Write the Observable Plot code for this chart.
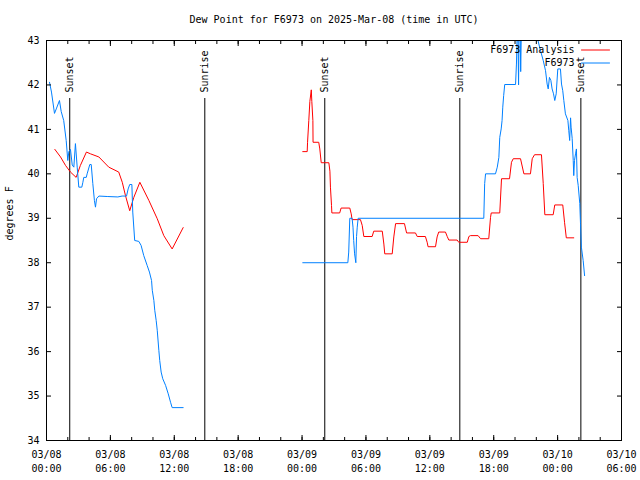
<!DOCTYPE html>
<html><head><meta charset="utf-8">
<script src="https://cdn.jsdelivr.net/npm/d3@7"></script>
<script src="https://cdn.jsdelivr.net/npm/@observablehq/plot@0.6"></script>
<style>body{margin:0;background:#fff}</style>
</head><body><div id="chart"></div>
<script>
const title = "Dew Point for F6973 on 2025-Mar-08 (time in UTC)";
const yLabel = "degrees F";
const legendLabels = ["F6973 Analysis", "F6973"];
const seriesColors = ["#ff0000", "#0080ff"];

// F6973 Analysis (red); null breaks the line
const analysisTimes = [
"03/08 00:47","03/08 01:19","03/08 01:47","03/08 02:15","03/08 02:47","03/08 03:11","03/08 03:45","03/08 04:08","03/08 04:55","03/08 05:51","03/08 06:47","03/08 07:07","03/08 07:25","03/08 07:49","03/08 08:12","03/08 08:46","03/08 09:37","03/08 10:24","03/08 11:01","03/08 11:48","03/08 12:50",
"03/08 18:00",
"03/09 00:04","03/09 00:29","03/09 00:31","03/09 00:38","03/09 00:44","03/09 00:52","03/09 00:55","03/09 01:01","03/09 01:02","03/09 01:34","03/09 01:40","03/09 01:48","03/09 02:31","03/09 02:37","03/09 02:40","03/09 02:46","03/09 02:48","03/09 03:32","03/09 03:40","03/09 04:29","03/09 04:37","03/09 04:42","03/09 05:29","03/09 05:39","03/09 05:48","03/09 06:35","03/09 06:44","03/09 07:32","03/09 07:41","03/09 07:46","03/09 08:28","03/09 08:37","03/09 08:47","03/09 09:37","03/09 09:49","03/09 10:39","03/09 10:49","03/09 11:35","03/09 11:45","03/09 11:50","03/09 12:32","03/09 12:41","03/09 12:50","03/09 13:28","03/09 13:38","03/09 13:47","03/09 14:34","03/09 14:43","03/09 15:31","03/09 15:40","03/09 15:49","03/09 16:32","03/09 16:46","03/09 17:32","03/09 17:42","03/09 17:46","03/09 18:34","03/09 18:44","03/09 19:29","03/09 19:40","03/09 19:50","03/09 20:31","03/09 20:50","03/09 21:27","03/09 21:37","03/09 21:50","03/09 22:29","03/09 22:39","03/09 22:48","03/09 23:35","03/09 23:44","03/10 00:29","03/10 00:39","03/10 00:49","03/10 01:31"
];
const analysisValues = [
40.55,40.38,40.19,40.04,39.92,40.19,40.49,40.45,40.38,40.15,40.04,39.81,39.51,39.17,39.47,39.81,39.40,38.99,38.61,38.31,38.79,
null,
40.50,40.50,40.71,41.20,41.63,41.89,41.63,41.20,40.71,40.71,40.56,40.25,40.25,40.06,39.70,39.29,39.12,39.12,39.23,39.23,39.10,38.97,38.97,38.84,38.59,38.59,38.71,38.71,38.42,38.20,38.20,38.58,38.88,38.88,38.67,38.67,38.59,38.59,38.46,38.36,38.36,38.58,38.69,38.69,38.59,38.51,38.51,38.46,38.46,38.59,38.61,38.61,38.54,38.54,39.02,39.12,39.12,39.89,39.89,40.26,40.34,40.34,40.00,40.00,40.34,40.43,40.43,39.78,39.08,39.08,39.30,39.30,38.91,38.56,38.56
];

// F6973 observations (blue)
const obsTimes = [
"03/08 00:17","03/08 00:28","03/08 00:45","03/08 00:55","03/08 01:13","03/08 01:23","03/08 01:37","03/08 01:51","03/08 02:00","03/08 02:06","03/08 02:15","03/08 02:25","03/08 02:34","03/08 02:43","03/08 02:53","03/08 03:02","03/08 03:19","03/08 03:25","03/08 03:30","03/08 03:44","03/08 03:49","03/08 04:04","03/08 04:12","03/08 04:21","03/08 04:30","03/08 04:36","03/08 04:42","03/08 04:55","03/08 05:42","03/08 06:42","03/08 07:06","03/08 07:31","03/08 07:40","03/08 07:49","03/08 08:01","03/08 08:06","03/08 08:17","03/08 08:40","03/08 08:53","03/08 09:08","03/08 09:27","03/08 09:40","03/08 09:52","03/08 09:56","03/08 10:05","03/08 10:10","03/08 10:18","03/08 10:24","03/08 10:33","03/08 10:38","03/08 10:46","03/08 10:55","03/08 11:11","03/08 11:26","03/08 11:39","03/08 11:48","03/08 12:50",
"03/08 18:00",
"03/09 00:04","03/09 04:18","03/09 04:23","03/09 04:29","03/09 04:42","03/09 04:47","03/09 04:51","03/09 04:56","03/09 05:03","03/09 05:07","03/09 05:11","03/09 05:16","03/09 17:04","03/09 17:09","03/09 17:14","03/09 18:10","03/09 18:20","03/09 18:29","03/09 18:34","03/09 18:42","03/09 18:47","03/09 18:51","03/09 18:56","03/09 19:02","03/09 20:03","03/09 20:08","03/09 20:13","03/09 20:16","03/09 20:20","03/09 20:23","03/09 20:29","03/09 20:32","03/09 20:36","03/09 22:00","03/09 22:03","03/09 22:23","03/09 22:39","03/09 22:52","03/09 23:01","03/09 23:07","03/09 23:14","03/09 23:22","03/09 23:29","03/09 23:37","03/09 23:44","03/09 23:52","03/10 00:01","03/10 00:16","03/10 00:22","03/10 00:29","03/10 00:35","03/10 00:44","03/10 00:58","03/10 01:03","03/10 01:08","03/10 01:13","03/10 01:16","03/10 01:22","03/10 01:28","03/10 01:31","03/10 01:35","03/10 01:41","03/10 01:46","03/10 01:50","03/10 01:56","03/10 02:05","03/10 02:09","03/10 02:14","03/10 02:24","03/10 02:32"
];
const obsValues = [
42.06,41.84,41.36,41.46,41.65,41.40,41.20,40.75,40.30,40.50,40.55,40.20,40.15,40.68,40.15,39.70,39.70,39.81,39.92,39.92,40.00,40.21,40.21,39.78,39.40,39.25,39.44,39.50,39.49,39.48,39.50,39.50,39.66,39.76,39.76,39.14,38.50,38.48,38.39,38.16,37.94,37.79,37.60,37.38,37.15,36.93,36.70,36.48,36.03,35.80,35.54,35.39,35.24,35.05,34.86,34.74,34.74,
null,
38.00,38.00,38.24,39.00,39.00,38.80,38.50,38.20,38.00,38.59,38.80,39.00,39.00,39.78,40.00,40.00,40.15,40.37,40.82,41.01,41.20,41.50,41.76,42.01,42.01,42.47,43.30,43.30,42.00,43.30,43.30,42.30,43.30,43.30,43.10,42.78,42.55,42.32,42.02,41.91,42.17,42.10,41.91,41.80,41.65,41.80,42.36,42.36,42.02,41.87,41.65,41.35,41.20,40.97,40.75,41.26,41.05,40.80,40.30,39.96,40.30,40.45,40.56,39.92,39.74,39.33,38.88,38.35,38.05,37.71
];

const sunTimes = ["03/08 02:11","03/08 14:52","03/09 02:08","03/09 14:49","03/10 02:11"];
const sunLabels = ["Sunset","Sunrise","Sunset","Sunrise","Sunset"];

const xTickLabels = ["03/08 00:00","03/08 06:00","03/08 12:00","03/08 18:00","03/09 00:00","03/09 06:00","03/09 12:00","03/09 18:00","03/10 00:00","03/10 06:00"];
const yTicks = [34,35,36,37,38,39,40,41,42,43];

const parse = s => d3.utcParse("%Y/%m/%d %H:%M")("2025/" + s);
const analysis = analysisTimes.map((t, i) => ({t: parse(t), v: analysisValues[i]}));
const obs = obsTimes.map((t, i) => ({t: parse(t), v: obsValues[i]}));
const sun = sunTimes.map((t, i) => ({t: parse(t), label: sunLabels[i]}));
const xMajor = xTickLabels.map(parse);
const xMinor = d3.utcHour.range(xMajor[0], xMajor[xMajor.length - 1], 2);
const fmt = d3.utcFormat("%m/%d\n%H:%M");
const blank = () => "";
const legendShape = {draw(ctx, l) { ctx.moveTo(0, 0); ctx.lineTo(l, 0); }};

const chart = Plot.plot({
  width: 640, height: 480,
  marginLeft: 46, marginRight: 19, marginTop: 40, marginBottom: 40,
  style: {fontFamily: "'DejaVu Sans Mono', monospace", fontSize: "10px", color: "black", background: "white"},
  x: {type: "utc", domain: [xMajor[0], xMajor[xMajor.length - 1]]},
  y: {domain: [34, 43]},
  marks: [
    Plot.ruleX(sun, {x: "t", stroke: "black", strokeWidth: 1, insetTop: 58}),
    Plot.text(sun, {x: "t", text: "label", rotate: -90, frameAnchor: "top", dy: 52, textAnchor: "start", lineAnchor: "middle", fontSize: 10, fill: "black"}),
    Plot.line(analysis, {x: "t", y: "v", stroke: seriesColors[0], strokeWidth: 1, clip: true}),
    Plot.line(obs, {x: "t", y: "v", stroke: seriesColors[1], strokeWidth: 1, clip: true}),
    Plot.frame({stroke: "black"}),
    Plot.axisX(xMajor, {anchor: "bottom", tickSize: -5, tickPadding: 13, tickFormat: fmt, fontSize: 10, lineHeight: 1.4, label: null}),
    Plot.axisX(xMinor, {anchor: "bottom", tickSize: -3, tickFormat: blank, label: null}),
    Plot.axisX(xMajor, {anchor: "top", tickSize: -5, tickFormat: blank, label: null}),
    Plot.axisX(xMinor, {anchor: "top", tickSize: -3, tickFormat: blank, label: null}),
    Plot.axisY(yTicks, {anchor: "left", tickSize: -5, tickPadding: 12, tickFormat: d => String(d), fontSize: 10, label: null}),
    Plot.axisY(yTicks, {anchor: "right", tickSize: -5, tickFormat: blank, label: null}),
    Plot.text([title], {frameAnchor: "top", dy: -21, lineAnchor: "middle", fontSize: 10, fill: "black"}),
    Plot.text([yLabel], {frameAnchor: "left", dx: -37, rotate: -90, lineAnchor: "middle", fontSize: 10, fill: "black"}),
    Plot.text([legendLabels[0]], {frameAnchor: "top-right", dx: -47, dy: 9.5, textAnchor: "end", lineAnchor: "middle", fontSize: 10, fill: "black"}),
    Plot.text([legendLabels[1]], {frameAnchor: "top-right", dx: -47, dy: 22.5, textAnchor: "end", lineAnchor: "middle", fontSize: 10, fill: "black"}),
    Plot.vector([0], {frameAnchor: "top-right", dx: -40, dy: 9.5, length: 28, anchor: "start", shape: legendShape, stroke: seriesColors[0], strokeWidth: 1}),
    Plot.vector([0], {frameAnchor: "top-right", dx: -40, dy: 22.5, length: 28, anchor: "start", shape: legendShape, stroke: seriesColors[1], strokeWidth: 1})
  ]
});
document.getElementById("chart").appendChild(chart);
</script>
</body></html>
